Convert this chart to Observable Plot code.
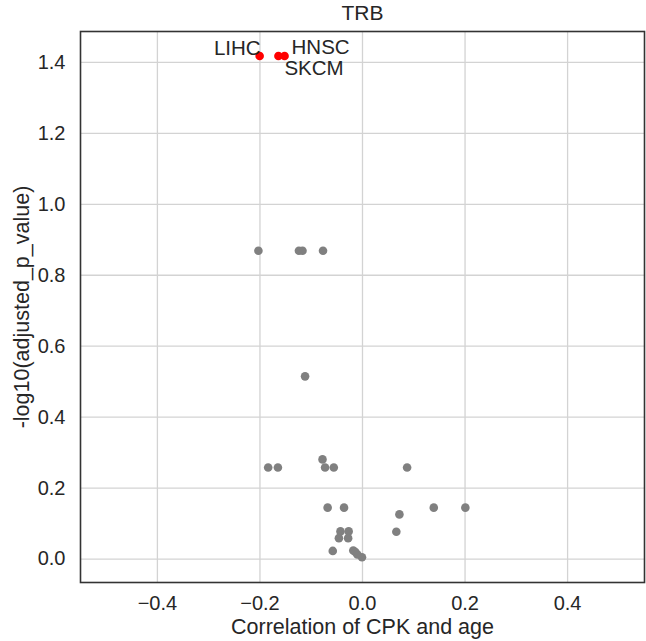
<!DOCTYPE html>
<html>
<head>
<meta charset="utf-8">
<script src="https://cdn.jsdelivr.net/npm/d3@7"></script>
<script src="https://cdn.jsdelivr.net/npm/@observablehq/plot@0.6"></script>
<style>
  html, body { margin: 0; padding: 0; background: #ffffff; }
</style>
</head>
<body>
<div id="chart"></div>
<script>
// ---- data ----
const title = "TRB";
const xLabel = "Correlation of CPK and age";
const yLabel = "-log10(adjusted_p_value)";
const xTicks = [-0.4, -0.2, 0.0, 0.2, 0.4];
const yTicks = [0.0, 0.2, 0.4, 0.6, 0.8, 1.0, 1.2, 1.4];

// significant (labelled) cancers
const sigNames = ["LIHC", "SKCM", "HNSC"];
const sigCorr  = [-0.2006, -0.164, -0.152];
const sigLogP  = [1.418, 1.418, 1.418];

// remaining (non-significant) cancers
const nsCorr = [-0.203, -0.124, -0.117, -0.077, -0.112,
                -0.184, -0.165, -0.078, -0.073, -0.056,
                -0.068, -0.036, -0.043, -0.027, -0.046, -0.028,
                -0.058, -0.018, -0.014, -0.010, -0.001,
                0.087, 0.072, 0.139, 0.2006, 0.066];
const nsLogP = [0.869, 0.869, 0.869, 0.869, 0.515,
                0.258, 0.258, 0.281, 0.258, 0.258,
                0.145, 0.145, 0.078, 0.078, 0.059, 0.059,
                0.023, 0.024, 0.020, 0.013, 0.005,
                0.258, 0.126, 0.145, 0.145, 0.077];

const sig = sigNames.map((n, i) => ({name: n, corr: sigCorr[i], logp: sigLogP[i]}));
const ns = nsCorr.map((c, i) => ({corr: c, logp: nsLogP[i]}));

const fmt = d3.format(".1f");

const chart = Plot.plot({
  width: 646,
  height: 641,
  marginLeft: 80,
  marginRight: 2,
  marginTop: 31,
  marginBottom: 59,
  style: {
    fontFamily: "'Liberation Sans', Arial, sans-serif",
    fontSize: "20px",
    color: "#262626",
    background: "#ffffff"
  },
  x: {domain: [-0.55, 0.55], ticks: xTicks, tickFormat: fmt, tickSize: 0, tickPadding: 13, label: null},
  y: {domain: [-0.066, 1.487], ticks: yTicks, tickFormat: fmt, tickSize: 0, tickPadding: 15, label: null},
  marks: [
    Plot.ruleX(xTicks, {stroke: "#d3d3d3", strokeWidth: 1.3}),
    Plot.ruleY(yTicks, {stroke: "#d3d3d3", strokeWidth: 1.3}),
    Plot.dot(ns, {x: "corr", y: "logp", r: 4.3, fill: "#808080", stroke: "none"}),
    Plot.dot(sig, {x: "corr", y: "logp", r: 4.3, fill: "#ff0000", stroke: "none"}),
    Plot.text(sig.filter(d => d.name === "LIHC"), {x: "corr", y: "logp", text: "name", textAnchor: "end", dx: 1, dy: -8, fontSize: 20.5, fill: "#262626"}),
    Plot.text(sig.filter(d => d.name === "HNSC"), {x: "corr", y: "logp", text: "name", textAnchor: "start", dx: 7, dy: -9, fontSize: 20.5, fill: "#262626"}),
    Plot.text(sig.filter(d => d.name === "SKCM"), {x: "corr", y: "logp", text: "name", textAnchor: "start", dx: 6, dy: 12, fontSize: 20.5, fill: "#262626"}),
    Plot.frame({stroke: "#333333", strokeWidth: 1.6}),
    Plot.text([title], {frameAnchor: "top", lineAnchor: "middle", textAnchor: "middle", dy: -18, text: d => d, fontSize: 21, fill: "#262626"}),
    Plot.text([xLabel], {frameAnchor: "bottom", lineAnchor: "middle", textAnchor: "middle", dy: 45, text: d => d, fontSize: 21.5, fill: "#262626"}),
    Plot.text([yLabel], {frameAnchor: "left", lineAnchor: "middle", textAnchor: "middle", dx: -58, rotate: -90, text: d => d, fontSize: 21.5, fill: "#262626"})
  ]
});
document.getElementById("chart").appendChild(chart);
</script>
</body>
</html>
